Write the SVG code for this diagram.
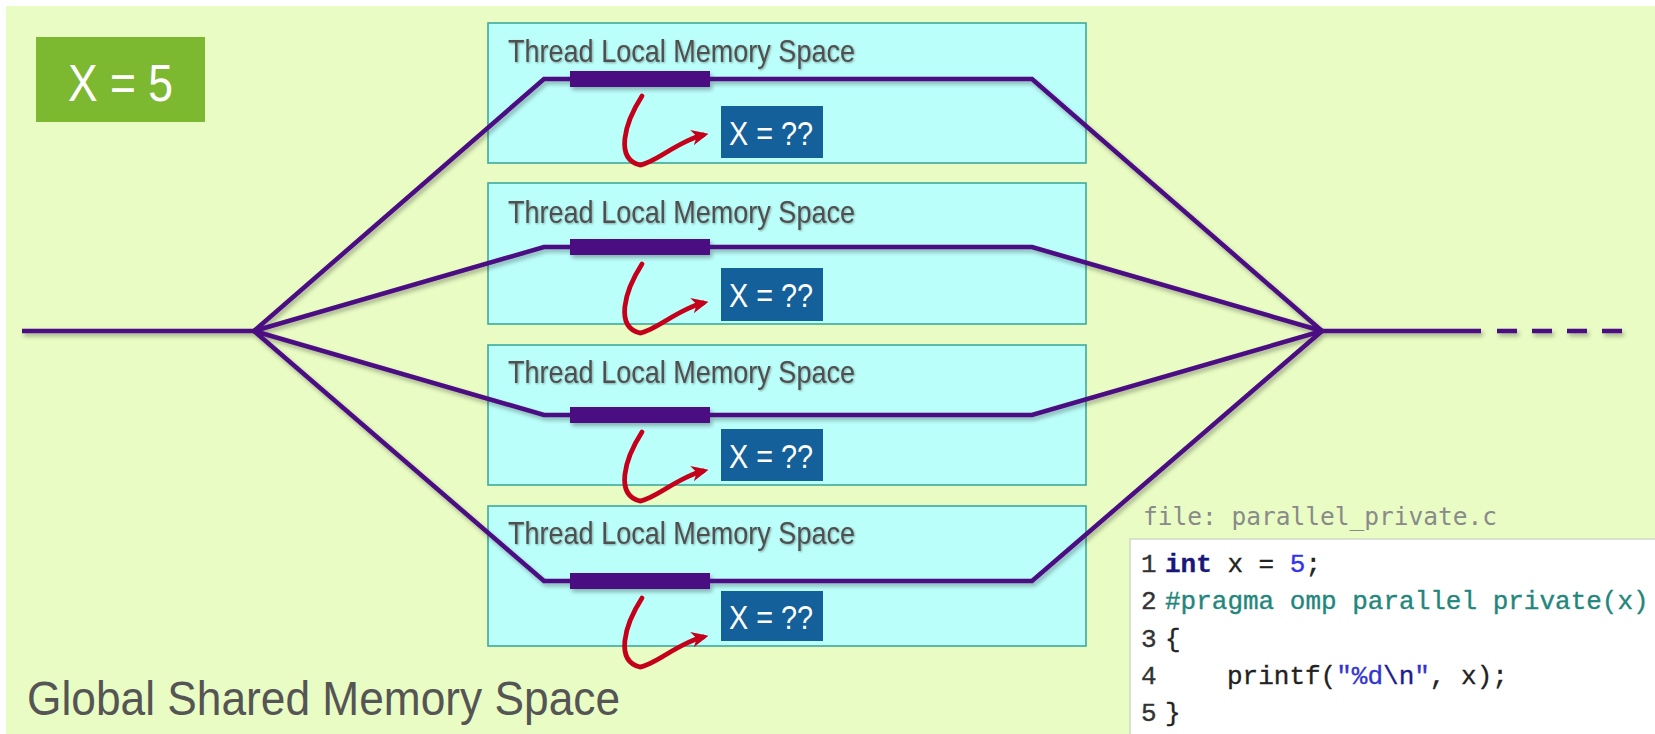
<svg xmlns="http://www.w3.org/2000/svg" width="1655" height="734" viewBox="0 0 1655 734">
<style>
.bg{fill:#e8fcc3}
.tbox{fill:#bbfffb;stroke:#3eab9c;stroke-width:1.6}
.title{font-family:"Liberation Sans",Arial,sans-serif;font-size:32px;fill:#4f4f4f}
.lbl{fill:#14609a}
.lbltxt{font-family:"Liberation Sans",Arial,sans-serif;font-size:34px;fill:#ffffff}
.thr{fill:none;stroke:#4b0a82;stroke-width:4.5;stroke-linejoin:miter}
.bar{fill:#4b0a82}
.red{fill:none;stroke:#c5001a;stroke-width:4.8;stroke-linecap:round}
.code{font-family:"Liberation Mono","DejaVu Sans Mono",monospace;font-size:26px;fill:#222;stroke:#222;stroke-width:0.35}
.num{fill:#333;stroke:#333}
</style>
<defs>
<filter id="sh" x="-10%" y="-10%" width="120%" height="130%">
<feDropShadow dx="2" dy="3" stdDeviation="2" flood-color="#000" flood-opacity="0.3"/>
</filter>
<filter id="tsh" x="-5%" y="-20%" width="110%" height="140%">
<feDropShadow dx="1" dy="1" stdDeviation="0.8" flood-color="#000" flood-opacity="0.35"/>
</filter>
<marker id="rh" viewBox="0 0 12 12" refX="8" refY="6" markerWidth="17" markerHeight="17" markerUnits="userSpaceOnUse" orient="auto">
<path d="M0,0.5 L12,6 L0,11.5 L3.5,6 Z" fill="#c5001a"/>
</marker>
</defs>

<rect x="0" y="0" width="1655" height="734" fill="#ffffff"/>
<rect class="bg" x="6" y="6" width="1649" height="728"/>

<g id="x5">
<rect x="36" y="37" width="169" height="85" fill="#7db831"/>
<text x="68" y="101" font-family="Liberation Sans,Arial,sans-serif" font-size="51" fill="#ffffff" textLength="105" lengthAdjust="spacingAndGlyphs">X = 5</text>
</g>

<g id="thread1">
<rect class="tbox" x="488" y="23" width="598" height="140"/>
<text class="title" x="508" y="62" textLength="347" lengthAdjust="spacingAndGlyphs" filter="url(#tsh)">Thread Local Memory Space</text>
<rect class="lbl" x="721" y="106" width="102" height="52"/>
<text class="lbltxt" x="729" y="145" textLength="84" lengthAdjust="spacingAndGlyphs">X = ??</text>
</g>
<g id="thread2">
<rect class="tbox" x="488" y="183" width="598" height="141"/>
<text class="title" x="508" y="223" textLength="347" lengthAdjust="spacingAndGlyphs" filter="url(#tsh)">Thread Local Memory Space</text>
<rect class="lbl" x="721" y="268" width="102" height="53"/>
<text class="lbltxt" x="729" y="307" textLength="84" lengthAdjust="spacingAndGlyphs">X = ??</text>
</g>
<g id="thread3">
<rect class="tbox" x="488" y="345" width="598" height="140"/>
<text class="title" x="508" y="383" textLength="347" lengthAdjust="spacingAndGlyphs" filter="url(#tsh)">Thread Local Memory Space</text>
<rect class="lbl" x="721" y="429" width="102" height="52"/>
<text class="lbltxt" x="729" y="468" textLength="84" lengthAdjust="spacingAndGlyphs">X = ??</text>
</g>
<g id="thread4">
<rect class="tbox" x="488" y="506" width="598" height="140"/>
<text class="title" x="508" y="544" textLength="347" lengthAdjust="spacingAndGlyphs" filter="url(#tsh)">Thread Local Memory Space</text>
<rect class="lbl" x="721" y="591" width="102" height="50"/>
<text class="lbltxt" x="729" y="629" textLength="84" lengthAdjust="spacingAndGlyphs">X = ??</text>
</g>

<g id="connectors">
<g filter="url(#sh)">
<path class="thr" d="M22,331 L254,331"/>
<path class="thr" d="M254,331 L544,79 L1032,79 L1322,331"/>
<path class="thr" d="M254,331 L544,247 L1032,247 L1322,331"/>
<path class="thr" d="M254,331 L544,415 L1032,415 L1322,331"/>
<path class="thr" d="M254,331 L544,581 L1032,581 L1322,331"/>
<path class="thr" d="M1322,331 L1481,331"/>
<path class="thr" d="M1497,331 L1622,331" stroke-dasharray="20 15" stroke-width="5"/>
<rect class="bar" x="570" y="71" width="140" height="16"/>
<rect class="bar" x="570" y="239" width="140" height="16"/>
<rect class="bar" x="570" y="407" width="140" height="16"/>
<rect class="bar" x="570" y="573" width="140" height="16"/>
</g>
<path class="red" marker-end="url(#rh)" d="M642,96 C624,124 615,159 640,165 C655,163 678,141 703,135"/>
<path class="red" marker-end="url(#rh)" d="M642,264 C624,292 615,327 640,333 C655,331 678,309 703,303"/>
<path class="red" marker-end="url(#rh)" d="M642,432 C624,460 615,495 640,501 C655,499 678,477 703,471"/>
<path class="red" marker-end="url(#rh)" d="M642,598 C624,626 615,661 640,667 C655,665 678,643 703,637"/>
</g>

<g id="global-label">
<text x="27" y="715" font-family="Liberation Sans,Arial,sans-serif" font-size="48" fill="#555555" textLength="593" lengthAdjust="spacingAndGlyphs">Global Shared Memory Space</text>
</g>

<g id="code">
<text x="1143" y="525" font-family="DejaVu Sans Mono,Liberation Mono,monospace" font-size="24.5" fill="#8a8a8a">file: parallel_private.c</text>
<rect x="1130" y="539" width="530" height="200" fill="#ffffff" stroke="#cfd8c8" stroke-width="1.5"/>
<text class="code num" x="1141" y="572">1</text>
<text class="code num" x="1141" y="609">2</text>
<text class="code num" x="1141" y="647">3</text>
<text class="code num" x="1141" y="684">4</text>
<text class="code num" x="1141" y="721">5</text>
<text class="code" x="1165" y="572"><tspan font-weight="bold" fill="#18187a" stroke="#18187a">int</tspan> x = <tspan fill="#3434e8" stroke="#3434e8">5</tspan>;</text>
<text class="code" x="1165" y="609" style="fill:#23867c;stroke:#23867c">#pragma omp parallel private(x)</text>
<text class="code" x="1165" y="647">{</text>
<text class="code" x="1227" y="684">printf(<tspan fill="#3434d0" stroke="#3434d0">"%d</tspan><tspan fill="#1c1c8c" stroke="#1c1c8c">\n</tspan><tspan fill="#3434d0" stroke="#3434d0">"</tspan>, x);</text>
<text class="code" x="1165" y="721">}</text>
</g>
</svg>
